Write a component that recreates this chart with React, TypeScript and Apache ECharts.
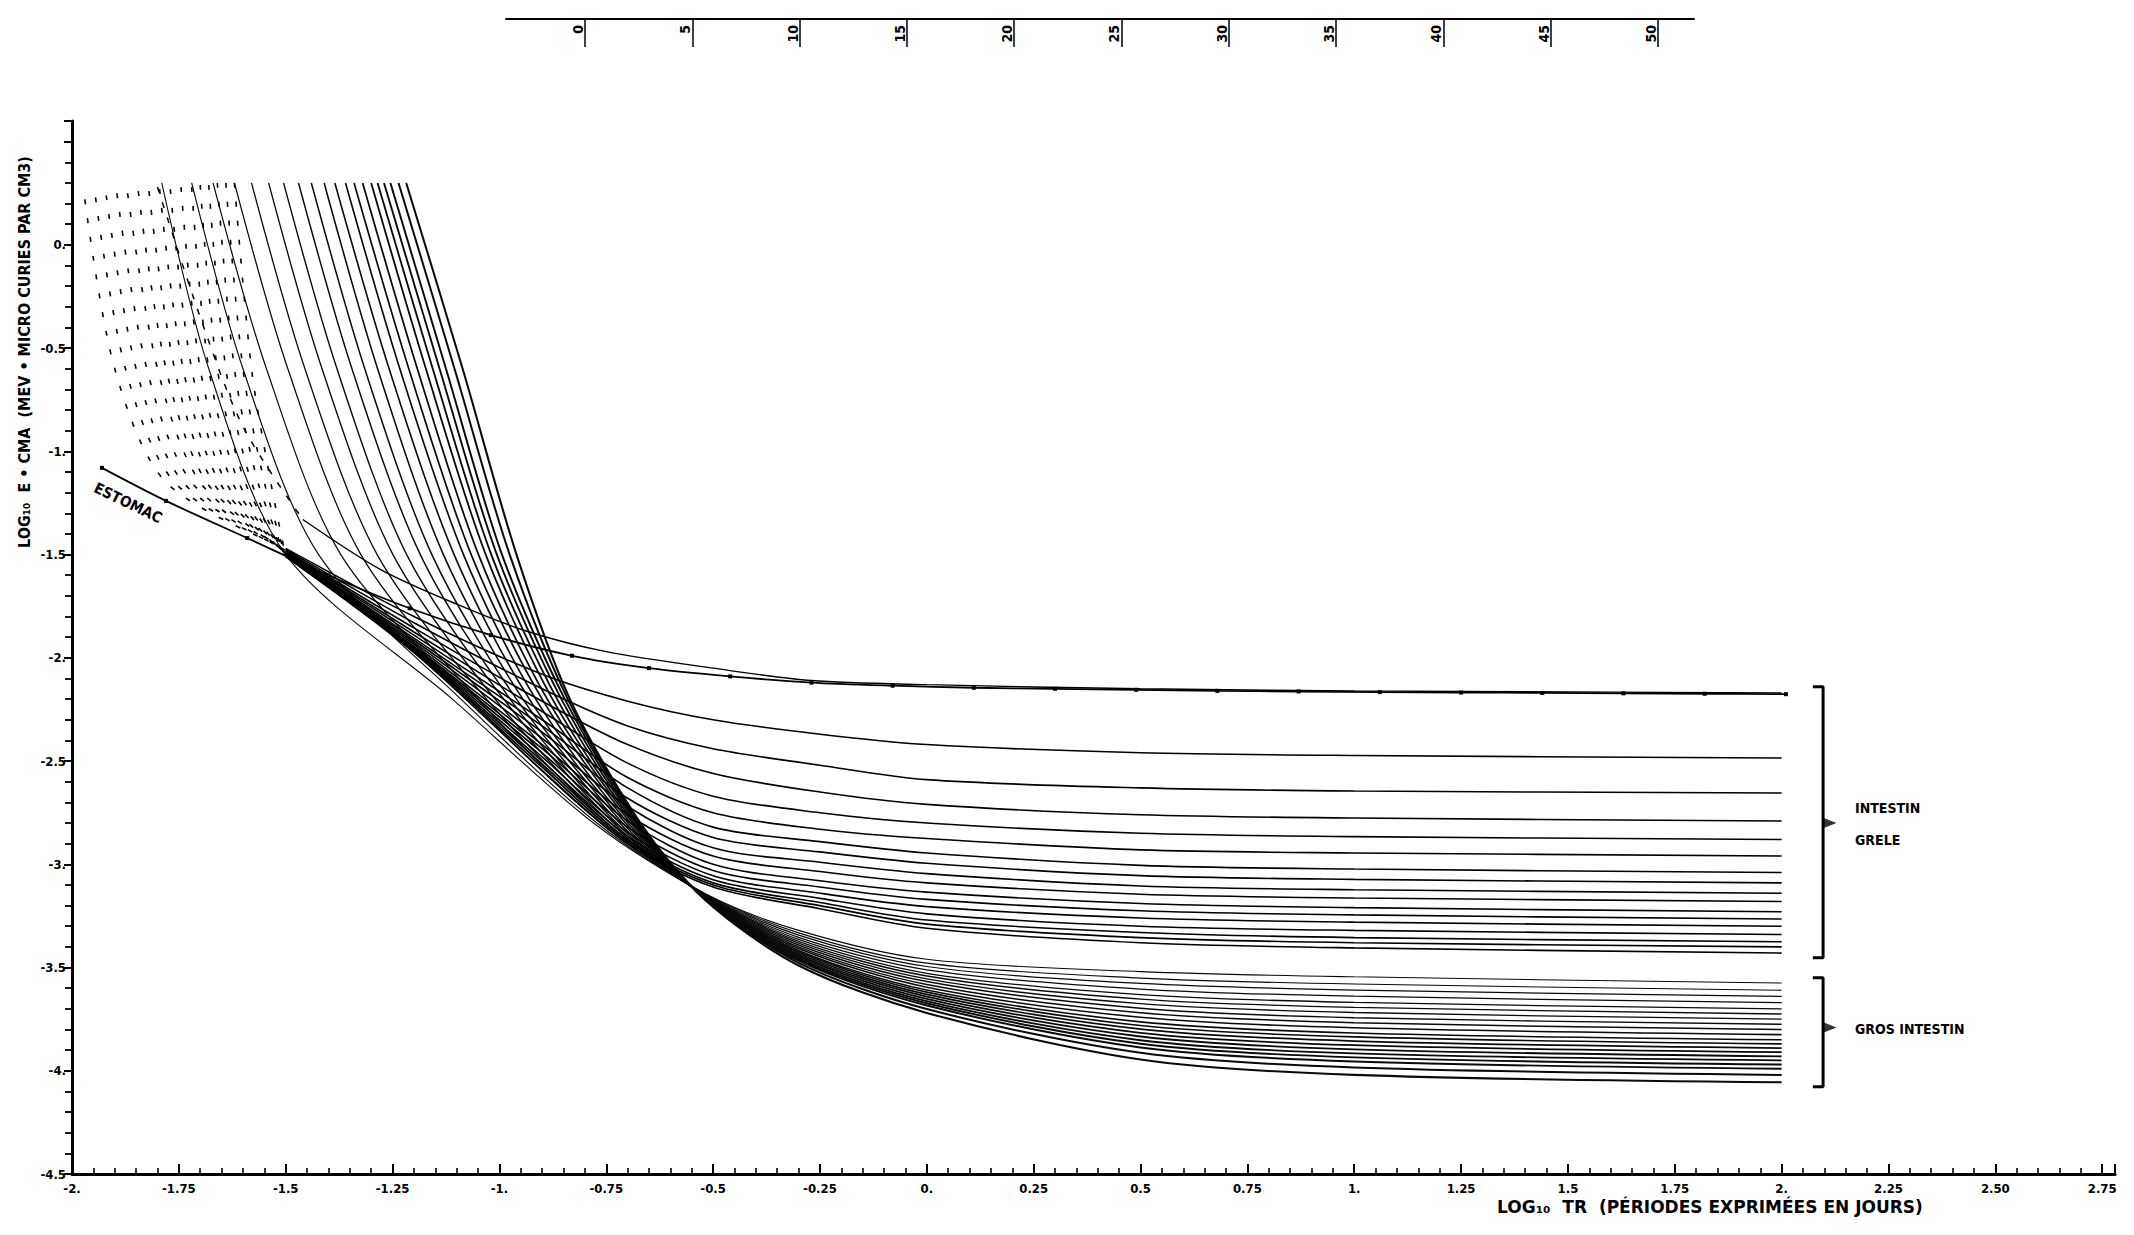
import React, { useEffect, useRef } from "react";
import * as echarts from "echarts";

// ---------------- DATA ----------------
// Main x axis (log10 TR) tick labels
const xTickValues = [-2, -1.75, -1.5, -1.25, -1, -0.75, -0.5, -0.25, 0, 0.25, 0.5, 0.75, 1, 1.25, 1.5, 1.75, 2, 2.25, 2.5, 2.75];
const xTickTexts = ["-2.", "-1.75", "-1.5", "-1.25", "-1.", "-0.75", "-0.5", "-0.25", "0.", "0.25", "0.5", "0.75", "1.", "1.25", "1.5", "1.75", "2.", "2.25", "2.50", "2.75"];
// Main y axis (log10 E*CMA) tick labels
const yTickValues = [0, -0.5, -1, -1.5, -2, -2.5, -3, -3.5, -4, -4.5];
const yTickTexts = ["0.", "-0.5", "-1.", "-1.5", "-2.", "-2.5", "-3.", "-3.5", "-4.", "-4.5"];
// Auxiliary scale at the top of the sheet
const topScaleValues = [0, 5, 10, 15, 20, 25, 30, 35, 40, 45, 50];
const topScaleTexts = ["0", "5", "10", "15", "20", "25", "30", "35", "40", "45", "50"];

// ESTOMAC curve (with plotted points)
const estX = [-1.93, -1.78, -1.59, -1.40, -1.21, -1.02, -0.83, -0.65, -0.46, -0.27, -0.08, 0.11, 0.30, 0.49, 0.68, 0.87, 1.06, 1.25, 1.44, 1.63, 1.82, 2.01];
const estY = [-1.08, -1.24, -1.42, -1.60, -1.76, -1.89, -1.99, -2.05, -2.09, -2.12, -2.135, -2.145, -2.15, -2.155, -2.16, -2.163, -2.166, -2.168, -2.17, -2.172, -2.174, -2.176];

// Companion upper curve merging with ESTOMAC on the right (upper part dashed, lower part solid)
const upUpperX = [-1.80, -1.70, -1.60, -1.46];
const upUpperY = [0.28, -0.35, -0.88, -1.33];
const upX = [-1.46, -1.28, -1.10, -0.93, -0.75, -0.5, -0.27, 0, 0.5, 1, 1.5, 2];
const upY = [-1.33, -1.57, -1.74, -1.875, -1.97, -2.05, -2.11, -2.13, -2.15, -2.16, -2.165, -2.17];

// INTESTIN GRELE family (16 curves). Steep upper part: x where each curve crosses given y levels
const greleXTop = [-1.97, -1.945, -1.92, -1.895, -1.87, -1.845, -1.82, -1.795, -1.77, -1.745, -1.72, -1.70, -1.68, -1.66, -1.64, -1.62];
const greleYTop = [0.22, 0.23, 0.24, 0.25, 0.25, 0.26, 0.26, 0.27, 0.27, 0.28, 0.28, 0.29, 0.29, 0.3, 0.3, 0.3];
const greleXAtM06 = [-1.90, -1.875, -1.85, -1.825, -1.80, -1.78, -1.76, -1.74, -1.72, -1.70, -1.68, -1.66, -1.64, -1.62, -1.60, -1.58];
const greleXAtM115 = [-1.78, -1.76, -1.74, -1.72, -1.70, -1.685, -1.67, -1.655, -1.64, -1.625, -1.61, -1.595, -1.58, -1.565, -1.55, -1.535];
const GRELE_CROSS_Y = [-0.6, -1.15];
// lower part: y values at fixed x columns
const GRELE_COL_X = [-1.5, -1.2, -0.9, -0.7, -0.5, -0.25, 0, 0.5, 1, 2];
const greleYAtM15 = [-1.47, -1.475, -1.48, -1.483, -1.486, -1.489, -1.492, -1.495, -1.497, -1.499, -1.501, -1.503, -1.505, -1.507, -1.509, -1.51];
const greleYAtM12 = [-1.80, -1.83, -1.855, -1.875, -1.89, -1.905, -1.915, -1.925, -1.935, -1.945, -1.95, -1.955, -1.96, -1.965, -1.97, -1.975];
const greleYAtM09 = [-2.08, -2.15, -2.21, -2.26, -2.30, -2.33, -2.36, -2.39, -2.42, -2.44, -2.46, -2.48, -2.50, -2.515, -2.53, -2.545];
const greleYAtM07 = [-2.21, -2.33, -2.42, -2.51, -2.58, -2.63, -2.68, -2.72, -2.76, -2.79, -2.82, -2.845, -2.865, -2.88, -2.89, -2.90];
const greleYAtM05 = [-2.30, -2.44, -2.56, -2.67, -2.75, -2.82, -2.87, -2.92, -2.96, -3.00, -3.03, -3.055, -3.075, -3.09, -3.10, -3.11];
const greleYAtM025 = [-2.37, -2.52, -2.65, -2.75, -2.83, -2.89, -2.94, -2.99, -3.035, -3.08, -3.11, -3.14, -3.165, -3.185, -3.20, -3.215];
const greleYAt0 = [-2.42, -2.59, -2.71, -2.80, -2.875, -2.945, -2.995, -3.045, -3.09, -3.135, -3.17, -3.205, -3.24, -3.27, -3.29, -3.31];
const greleYAt05 = [-2.46, -2.63, -2.76, -2.85, -2.93, -3.005, -3.055, -3.105, -3.145, -3.19, -3.225, -3.26, -3.30, -3.33, -3.355, -3.38];
const greleYAt1 = [-2.473, -2.645, -2.776, -2.866, -2.945, -3.023, -3.073, -3.123, -3.163, -3.21, -3.245, -3.28, -3.32, -3.355, -3.38, -3.405];
const greleLevel = [-2.485, -2.655, -2.79, -2.88, -2.96, -3.04, -3.09, -3.14, -3.18, -3.23, -3.265, -3.30, -3.34, -3.375, -3.40, -3.43];

// GROS INTESTIN family (20 curves). Upper part: x where each curve crosses given y levels
const GROS_CROSS_Y = [0.3, -0.6, -1.5, -2.2, -2.8];
const grosXTop = [-1.79, -1.72, -1.67, -1.62, -1.58, -1.54, -1.505, -1.47, -1.44, -1.41, -1.385, -1.36, -1.34, -1.32, -1.30, -1.285, -1.27, -1.255, -1.236, -1.218];
const grosXAtM06 = [-1.68, -1.60, -1.545, -1.495, -1.455, -1.415, -1.38, -1.345, -1.315, -1.285, -1.258, -1.233, -1.212, -1.192, -1.172, -1.156, -1.14, -1.125, -1.105, -1.086];
const grosXAtM15 = [-1.50, -1.423, -1.371, -1.324, -1.286, -1.249, -1.217, -1.185, -1.158, -1.131, -1.106, -1.084, -1.066, -1.049, -1.032, -1.019, -1.006, -0.994, -0.976, -0.96];
const grosXAtM22 = [-1.11, -1.09, -1.07, -1.05, -1.03, -1.01, -0.99, -0.975, -0.96, -0.945, -0.93, -0.915, -0.90, -0.888, -0.876, -0.865, -0.855, -0.847, -0.84, -0.835];
const grosXAtM28 = [-0.78, -0.772, -0.764, -0.756, -0.748, -0.74, -0.733, -0.726, -0.719, -0.712, -0.705, -0.699, -0.693, -0.688, -0.684, -0.68, -0.677, -0.674, -0.672, -0.67];
// lower part: y values at fixed x columns
const GROS_COL_X = [-0.52, -0.3, 0, 0.5, 1, 2];
const grosYAtPinch = [-3.14, -3.142, -3.144, -3.146, -3.148, -3.149, -3.151, -3.152, -3.154, -3.156, -3.157, -3.158, -3.16, -3.161, -3.162, -3.163, -3.165, -3.166, -3.168, -3.17];
const grosYAtM03 = [-3.32, -3.332, -3.343, -3.354, -3.364, -3.373, -3.382, -3.391, -3.40, -3.408, -3.417, -3.424, -3.431, -3.438, -3.445, -3.453, -3.46, -3.467, -3.477, -3.49];
const grosYAt0 = [-3.46, -3.479, -3.495, -3.511, -3.528, -3.541, -3.555, -3.568, -3.582, -3.595, -3.609, -3.619, -3.63, -3.641, -3.652, -3.663, -3.673, -3.684, -3.701, -3.72];
const grosYAt05 = [-3.52, -3.551, -3.577, -3.604, -3.631, -3.653, -3.675, -3.697, -3.719, -3.741, -3.763, -3.781, -3.798, -3.816, -3.834, -3.852, -3.869, -3.887, -3.913, -3.945];
const grosYAt1 = [-3.545, -3.58, -3.609, -3.639, -3.669, -3.693, -3.718, -3.743, -3.767, -3.792, -3.817, -3.836, -3.856, -3.876, -3.896, -3.916, -3.935, -3.955, -3.984, -4.02];
const grosLevel = [-3.575, -3.61, -3.64, -3.67, -3.70, -3.725, -3.75, -3.775, -3.80, -3.825, -3.85, -3.87, -3.89, -3.91, -3.93, -3.95, -3.97, -3.99, -4.02, -4.056];

// Brackets on the right (data coordinates)
const greleBracket = [[2.073, -2.14], [2.097, -2.14], [2.097, -3.453], [2.073, -3.453]];
const grosBracket = [[2.073, -3.55], [2.097, -3.55], [2.097, -4.078], [2.073, -4.078]];
const bracketArrows = [[2.112, -2.80], [2.112, -3.79]];

// ---------------- BUILD ----------------
const FONT = "'DejaVu Sans Condensed', 'Liberation Sans Narrow', 'DejaVu Sans', sans-serif";

const lookup = (vals: number[], texts: string[]) => (v: number) => {
  for (let i = 0; i < vals.length; i++) if (Math.abs(vals[i] - v) < 1e-6) return texts[i];
  return "";
};

const lineSeries = (data: number[][], width: number, color = "#000", type: any = "solid") => ({
  type: "line",
  xAxisIndex: 0,
  yAxisIndex: 0,
  data,
  symbol: "none",
  showSymbol: false,
  smooth: 0.3,
  silent: true,
  lineStyle: { color, width, type },
});

const grosSeries = grosLevel.map((_, j) =>
  lineSeries(
    [
      [grosXTop[j], GROS_CROSS_Y[0]],
      [grosXAtM06[j], GROS_CROSS_Y[1]],
      [grosXAtM15[j], GROS_CROSS_Y[2]],
      [grosXAtM22[j], GROS_CROSS_Y[3]],
      [grosXAtM28[j], GROS_CROSS_Y[4]],
      [GROS_COL_X[0], grosYAtPinch[j]],
      [GROS_COL_X[1], grosYAtM03[j]],
      [GROS_COL_X[2], grosYAt0[j]],
      [GROS_COL_X[3], grosYAt05[j]],
      [GROS_COL_X[4], grosYAt1[j]],
      [GROS_COL_X[5], grosLevel[j]],
    ],
    1.1 + j * 0.05,
    "#0a0a0a"
  )
);

const greleCols = [greleYAtM15, greleYAtM12, greleYAtM09, greleYAtM07, greleYAtM05, greleYAtM025, greleYAt0, greleYAt05, greleYAt1, greleLevel];

const greleUpper = greleLevel.map((_, i) =>
  lineSeries(
    [
      [greleXTop[i], greleYTop[i]],
      [greleXAtM06[i], GRELE_CROSS_Y[0]],
      [greleXAtM115[i], GRELE_CROSS_Y[1]],
      [GRELE_COL_X[0], greleYAtM15[i]],
    ],
    1.6,
    "#000",
    [5, 14]
  )
);
const greleLower = greleLevel.map((_, i) => lineSeries(GRELE_COL_X.map((x, c) => [x, greleCols[c][i]]), 1.6));

const estSeries = {
  ...lineSeries(estX.map((x, i) => [x, estY[i]]), 1.8),
  symbol: "rect",
  showSymbol: true,
  symbolSize: 4,
  itemStyle: { color: "#000" },
};
const upUpperSeries = lineSeries(upUpperX.map((x, i) => [x, upUpperY[i]]), 1.5, "#000", [6, 10]);
const upSeries = lineSeries(upX.map((x, i) => [x, upY[i]]), 1.4);

const bracketSeries = [greleBracket, grosBracket].map((b) => ({
  type: "line",
  data: b,
  symbol: "none",
  smooth: false,
  silent: true,
  lineStyle: { color: "#000", width: 3 },
}));
const arrowSeries = {
  type: "scatter",
  data: bracketArrows,
  symbol: "triangle",
  symbolRotate: -90,
  symbolSize: [11, 14],
  itemStyle: { color: "#000" },
  silent: true,
};

const labelFont = { fontFamily: FONT, fontWeight: "bold" as const, color: "#000" };

const option: any = {
  animation: false,
  backgroundColor: "#fff",
  grid: [
    { left: 72, top: 121, width: 2043, height: 1053 },
    { left: 506, top: 5, width: 1188, height: 14 },
  ],
  xAxis: [
    {
      gridIndex: 0,
      type: "value",
      min: -2,
      max: 2.78,
      interval: 0.25,
      axisLine: { onZero: false, lineStyle: { color: "#000", width: 3 } },
      axisTick: { inside: true, length: 10, lineStyle: { color: "#000", width: 2 } },
      minorTick: { show: true, splitNumber: 5, length: 6, lineStyle: { color: "#000", width: 1.6 } },
      axisLabel: { ...labelFont, fontSize: 13, margin: 8, formatter: lookup(xTickValues, xTickTexts) },
      splitLine: { show: false },
    },
    {
      gridIndex: 1,
      type: "value",
      min: -3.68,
      max: 51.68,
      position: "bottom",
      axisLine: { onZero: false, lineStyle: { color: "#000", width: 2 } },
      axisTick: { customValues: topScaleValues, length: 28, lineStyle: { color: "#000", width: 1.5 } },
      axisLabel: {
        ...labelFont,
        fontSize: 14,
        customValues: topScaleValues,
        rotate: 90,
        margin: 6,
        verticalAlign: "bottom",
        formatter: lookup(topScaleValues, topScaleTexts),
      },
      splitLine: { show: false },
    },
  ],
  yAxis: [
    {
      gridIndex: 0,
      type: "value",
      min: -4.5,
      max: 0.6,
      interval: 0.5,
      axisLine: { onZero: false, lineStyle: { color: "#000", width: 3 } },
      axisTick: { length: 8, lineStyle: { color: "#000", width: 2 } },
      minorTick: { show: true, splitNumber: 5, length: 7, lineStyle: { color: "#000", width: 1.8 } },
      axisLabel: { ...labelFont, fontSize: 13, margin: 6, formatter: lookup(yTickValues, yTickTexts) },
      splitLine: { show: false },
    },
    { gridIndex: 1, type: "value", show: false, min: 0, max: 1 },
  ],
  graphic: [
    {
      type: "text",
      x: 24,
      y: 352,
      rotation: Math.PI / 2,
      silent: true,
      style: {
        text: "LOG₁₀  E • CMA  (MEV • MICRO CURIES PAR CM3)",
        fontFamily: FONT,
        fontWeight: "bold",
        fontSize: 16,
        fill: "#000",
        align: "center",
        verticalAlign: "middle",
      },
    },
    {
      type: "text",
      x: 1497,
      y: 1207,
      silent: true,
      style: {
        text: "LOG₁₀  TR  (PÉRIODES EXPRIMÉES EN JOURS)",
        fontFamily: "'DejaVu Sans', sans-serif",
        fontWeight: "bold",
        fontSize: 17,
        fill: "#000",
        align: "left",
        verticalAlign: "middle",
      },
    },
    {
      type: "text",
      x: 128,
      y: 503,
      rotation: -0.45,
      silent: true,
      style: { text: "ESTOMAC", fontFamily: FONT, fontWeight: "bold", fontSize: 15, fill: "#000", align: "center", verticalAlign: "middle" },
    },
    {
      type: "text",
      x: 1855,
      y: 808,
      silent: true,
      style: { text: "INTESTIN", fontFamily: FONT, fontWeight: "bold", fontSize: 14, fill: "#000", align: "left", verticalAlign: "middle" },
    },
    {
      type: "text",
      x: 1855,
      y: 840,
      silent: true,
      style: { text: "GRELE", fontFamily: FONT, fontWeight: "bold", fontSize: 14, fill: "#000", align: "left", verticalAlign: "middle" },
    },
    {
      type: "text",
      x: 1855,
      y: 1029,
      silent: true,
      style: { text: "GROS INTESTIN", fontFamily: FONT, fontWeight: "bold", fontSize: 14, fill: "#000", align: "left", verticalAlign: "middle" },
    },
  ],
  series: [...grosSeries, ...greleUpper, ...greleLower, upUpperSeries, upSeries, estSeries, ...bracketSeries, arrowSeries],
};

export default function App() {
  const ref = useRef<HTMLDivElement>(null);
  useEffect(() => {
    if (!ref.current) return;
    const chart = echarts.init(ref.current, null, { renderer: "svg" });
    chart.setOption(option);
    return () => chart.dispose();
  }, []);
  return (
    <div
      ref={ref}
      style={{ position: "fixed", left: 0, top: 0, width: 2134, height: 1235, background: "#fff" }}
    />
  );
}
